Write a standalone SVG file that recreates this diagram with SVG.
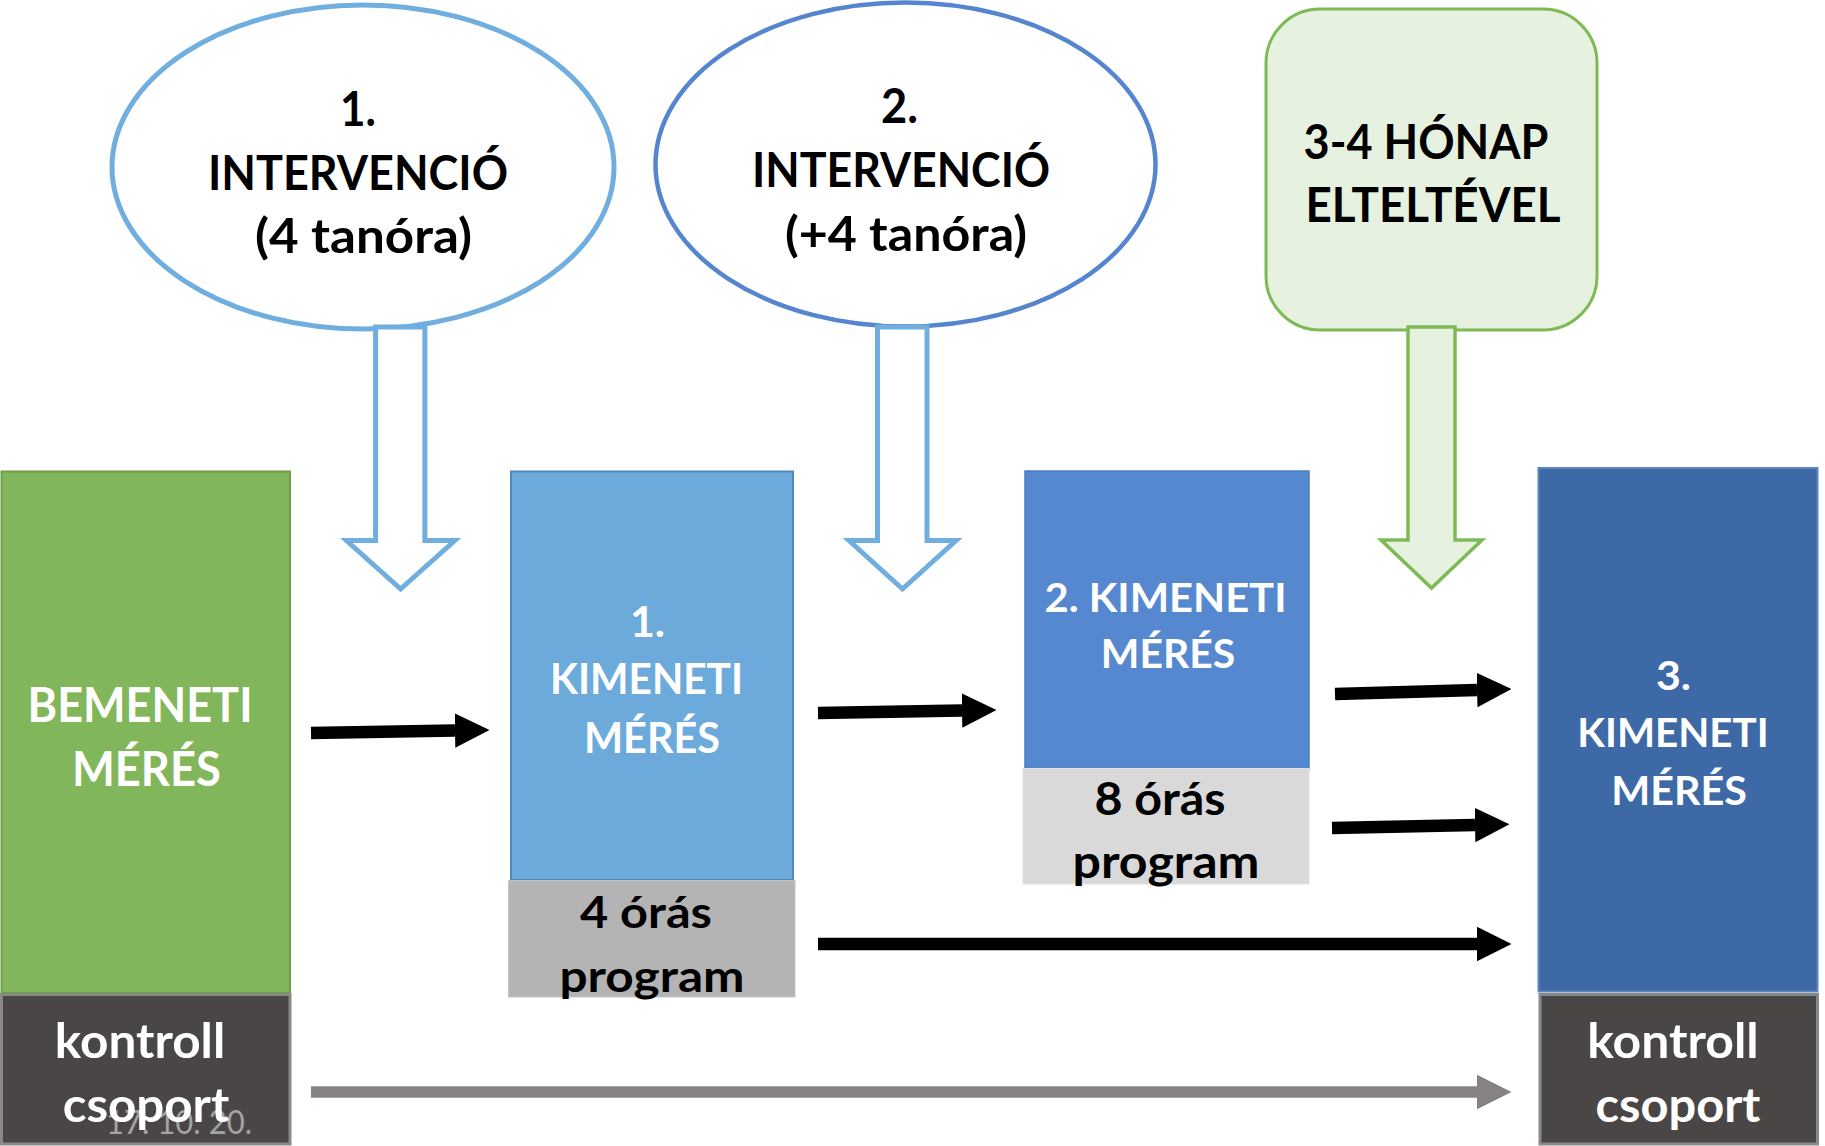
<svg xmlns="http://www.w3.org/2000/svg" width="1825" height="1146" viewBox="0 0 1825 1146">
<style>
.t{font-family:Lato,"Liberation Sans",sans-serif;font-weight:700;text-anchor:middle}
.w{fill:#ffffff}
.k{fill:#000000}
.hollow{fill:#ffffff;stroke:#6FAEDF;stroke-width:5;stroke-linejoin:miter}
.blk{stroke:#000000;stroke-width:12.5;fill:none}
.gry{stroke:#878282;stroke-width:11.5;fill:none}
.ctl{fill:#4A4646;stroke:#898989;stroke-width:3}
</style>
<defs>
<marker id="ahk" viewBox="0 0 10 10" refX="0" refY="5" markerWidth="2.76" markerHeight="2.8" markerUnits="strokeWidth" orient="auto">
<path d="M0,0 L10,5 L0,10 Z" fill="#000000"/>
</marker>
<marker id="ahg" viewBox="0 0 10 10" refX="0" refY="5" markerWidth="3.0" markerHeight="3.05" markerUnits="strokeWidth" orient="auto">
<path d="M0,0 L10,5 L0,10 Z" fill="#878282"/>
</marker>
</defs>
<rect width="1825" height="1146" fill="#ffffff"/>

<g id="intervencio1">
<ellipse cx="363" cy="167" rx="251" ry="162" fill="#ffffff" stroke="#6FAEDF" stroke-width="5"/>
<text class="t k" font-size="48" x="358" y="125.5" textLength="36" lengthAdjust="spacingAndGlyphs">1.</text>
<text class="t k" font-size="48" x="358" y="189.5" textLength="300" lengthAdjust="spacingAndGlyphs">INTERVENCIÓ</text>
<text class="t k" font-size="48" x="363.5" y="252.5" textLength="217" lengthAdjust="spacingAndGlyphs">(4 tanóra)</text>
</g>

<g id="intervencio2">
<ellipse cx="905.5" cy="164.5" rx="250" ry="162" fill="#ffffff" stroke="#5585CE" stroke-width="4.5"/>
<text class="t k" font-size="48" x="899.5" y="122.5" textLength="37" lengthAdjust="spacingAndGlyphs">2.</text>
<text class="t k" font-size="48" x="901" y="187" textLength="298" lengthAdjust="spacingAndGlyphs">INTERVENCIÓ</text>
<text class="t k" font-size="48" x="906" y="250.7" textLength="242" lengthAdjust="spacingAndGlyphs">(+4 tanóra)</text>
</g>

<g id="honap">
<rect x="1266" y="9" width="331" height="321" rx="54" ry="54" fill="#E6F1DF" stroke="#7DBA55" stroke-width="3"/>
<text class="t k" font-size="47" x="1426" y="159" textLength="245" lengthAdjust="spacingAndGlyphs">3-4 HÓNAP</text>
<text class="t k" font-size="47" x="1433" y="222" textLength="255" lengthAdjust="spacingAndGlyphs">ELTELTÉVEL</text>
</g>

<g id="arrows-down">
<path class="hollow" d="M375.6,327 H424.9 V540.5 H454.8 L400.6,589 L346.5,540.5 H375.6 Z"/>
<path class="hollow" d="M877.5,327 H927 V540.5 H956 L902.5,589 L849,540.5 H877.5 Z"/>
<path d="M1408,327 H1455 V540 H1482 L1431.5,588 L1381,540 H1408 Z" fill="#E6F1DF" stroke="#7DBA55" stroke-width="3.5"/>
</g>

<g id="bemeneti">
<rect x="1.5" y="471.5" width="288.5" height="521.5" fill="#81B65A" stroke="#6E9D4B" stroke-width="2"/>
<text class="t w" font-size="47" x="140" y="722" textLength="225" lengthAdjust="spacingAndGlyphs">BEMENETI</text>
<text class="t w" font-size="47" x="146.4" y="786" textLength="149" lengthAdjust="spacingAndGlyphs">MÉRÉS</text>
</g>

<g id="kontroll1">
<rect class="ctl" x="1.5" y="994.5" width="288.5" height="149.5"/>
<text font-family="Lato,'Liberation Sans',sans-serif" font-size="33" fill="#A3A3A3" x="106" y="1134" textLength="146" lengthAdjust="spacingAndGlyphs">17. 10. 20.</text>
<text class="t w" font-size="47" x="140" y="1058" textLength="170.5" lengthAdjust="spacingAndGlyphs">kontroll</text>
<text class="t w" font-size="47" x="146" y="1121.5" textLength="166.6" lengthAdjust="spacingAndGlyphs">csoport</text>
</g>

<g id="kimeneti1">
<rect x="511" y="471.5" width="282" height="408.5" fill="#6CAADC" stroke="#5088BD" stroke-width="2"/>
<text class="t w" font-size="42" x="647.5" y="637" textLength="35" lengthAdjust="spacingAndGlyphs">1.</text>
<text class="t w" font-size="42" x="646.6" y="694" textLength="193" lengthAdjust="spacingAndGlyphs">KIMENETI</text>
<text class="t w" font-size="42" x="652" y="752.5" textLength="136" lengthAdjust="spacingAndGlyphs">MÉRÉS</text>
</g>

<g id="program4">
<rect x="508.5" y="880.5" width="286.5" height="116.5" fill="#B4B4B4" stroke="#C4C4C4" stroke-width="1"/>
<text class="t k" font-size="44" x="646" y="928.4" textLength="132" lengthAdjust="spacingAndGlyphs">4 órás</text>
<text class="t k" font-size="44" x="652" y="991.5" textLength="185" lengthAdjust="spacingAndGlyphs">program</text>
</g>

<g id="kimeneti2">
<rect x="1025" y="471" width="284" height="297.5" fill="#5688D0" stroke="#4C7DC4" stroke-width="1.5"/>
<text class="t w" font-size="41" x="1165.5" y="612" textLength="242" lengthAdjust="spacingAndGlyphs">2. KIMENETI</text>
<text class="t w" font-size="41" x="1168" y="667.7" textLength="134.4" lengthAdjust="spacingAndGlyphs">MÉRÉS</text>
</g>

<g id="program8">
<rect x="1023" y="768.5" width="286" height="115.5" fill="#D9D9D9" stroke="#E2E2E2" stroke-width="1"/>
<text class="t k" font-size="45" x="1160" y="814.7" textLength="131" lengthAdjust="spacingAndGlyphs">8 órás</text>
<text class="t k" font-size="45" x="1166" y="877.8" textLength="187" lengthAdjust="spacingAndGlyphs">program</text>
</g>

<g id="kimeneti3">
<rect x="1538.5" y="468" width="279" height="523.5" fill="#3D69A6" stroke="#5A85BF" stroke-width="2"/>
<text class="t w" font-size="41" x="1673.5" y="690" textLength="35" lengthAdjust="spacingAndGlyphs">3.</text>
<text class="t w" font-size="41" x="1673" y="746.8" textLength="191.5" lengthAdjust="spacingAndGlyphs">KIMENETI</text>
<text class="t w" font-size="41" x="1679" y="804.5" textLength="135.7" lengthAdjust="spacingAndGlyphs">MÉRÉS</text>
</g>

<g id="kontroll3">
<rect class="ctl" x="1540" y="994.5" width="277.5" height="149.5"/>
<text class="t w" font-size="47" x="1673" y="1058" textLength="171.5" lengthAdjust="spacingAndGlyphs">kontroll</text>
<text class="t w" font-size="47" x="1678" y="1121.5" textLength="165" lengthAdjust="spacingAndGlyphs">csoport</text>
</g>

<g id="connectors">
<line class="blk" x1="311" y1="733" x2="455" y2="730.5" marker-end="url(#ahk)"/>
<line class="blk" x1="818" y1="713" x2="962" y2="710.5" marker-end="url(#ahk)"/>
<line class="blk" x1="1335" y1="694" x2="1477" y2="690" marker-end="url(#ahk)"/>
<line class="blk" x1="1332" y1="828" x2="1475" y2="825" marker-end="url(#ahk)"/>
<line class="blk" x1="818" y1="944" x2="1477" y2="944" marker-end="url(#ahk)"/>
<line class="gry" x1="311" y1="1092" x2="1477" y2="1092" marker-end="url(#ahg)"/>
</g>
</svg>
